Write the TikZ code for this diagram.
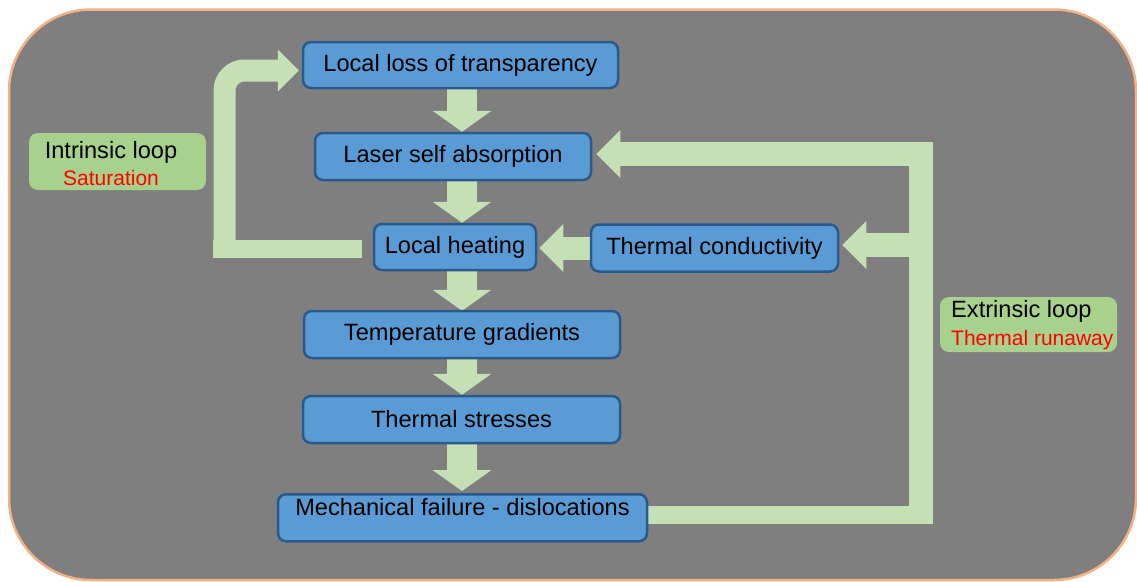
\documentclass[tikz,border=0pt]{standalone}
\usepackage{fontspec}
\setmainfont{Liberation Sans}
\usetikzlibrary{arrows.meta,calc,backgrounds}
\definecolor{bggray}{HTML}{7F7F7F}
\definecolor{bgborder}{HTML}{F4B183}
\definecolor{boxfill}{HTML}{5B9BD5}
\definecolor{boxborder}{HTML}{2A5A8C}
\definecolor{arrowgreen}{HTML}{C5E0B4}
\definecolor{loopgreen}{HTML}{A9D18E}
\definecolor{loopred}{HTML}{FF0000}
\begin{document}
\begin{tikzpicture}[x=1pt,y=-1pt,
  stepbox/.style={draw=boxborder, fill=boxfill, line width=2.5pt, rounded corners=8pt,
    inner sep=0pt, text=black, font=\fontsize{23.6}{28}\selectfont},
  loopbox/.style={fill=loopgreen, rounded corners=9pt, inner sep=0pt},
  looptext/.style={inner sep=0pt, text=black, font=\fontsize{23.6}{27.5}\selectfont},
  downarrow/.style={draw=arrowgreen, line width=30pt,
    -{Triangle[width=59pt,length=21pt,line width=0pt]}},
  sidearrow/.style={draw=arrowgreen, line width=#1,
    -{Triangle[width=48pt,length=24pt,line width=0pt]}},
  loopshaft/.style={draw=arrowgreen, line width=#1},
]
\useasboundingbox (0,0) rectangle (1137,581);
\begin{scope}[on background layer]
\fill[white] (0,0) rectangle (1137,581);
\draw[fill=bggray, draw=bgborder, line width=2.5pt, rounded corners=82pt]
  (9,9.5) rectangle (1136,580);
\end{scope}

% boxes
\node[stepbox, minimum width=315pt, minimum height=46pt] (b1) at (460.5,65) {Local loss of transparency};
\node[stepbox, minimum width=276pt, minimum height=47pt] (b2) at (453,156.5) {Laser self absorption};
\node[stepbox, minimum width=162pt, minimum height=46pt] (lh) at (455,247) {Local heating};
\node[stepbox, minimum width=247pt, minimum height=47pt] (tc) at (714.5,248) {Thermal conductivity};
\node[stepbox, minimum width=316pt, minimum height=47pt] (tg) at (462,334.5) {Temperature gradients};
\node[stepbox, minimum width=317pt, minimum height=47pt] (ts) at (461.5,419.5) {Thermal stresses};
\node[stepbox, minimum width=369pt, anchor=north, text height=21.5pt, text depth=25.5pt] (mf) at (462.5,493) {Mechanical failure - dislocations};

% loop labels
\node[loopbox, minimum width=177pt, minimum height=57pt] (il) at (117.5,161.5) {};
\node[looptext, align=center, anchor=base] (ilt) at (111,185.5) {Intrinsic loop\\{\color{loopred}\fontsize{21}{27.5}\selectfont Saturation}};
\node[loopbox, minimum width=177pt, minimum height=55pt] (el) at (1028.5,324.5) {};
\node[looptext, align=left, anchor=base west] (elt) at (951,345) {Extrinsic loop\\{\color{loopred}\fontsize{21}{27.5}\selectfont Thermal runaway}};

% coordinates
\coordinate (spine) at (462,0);
\coordinate (exTopEnd) at (933,154);
\coordinate (exA) at (921,142);
\coordinate (exB) at (921,524);
\coordinate (exBr) at (921,245);
\coordinate (exBotEnd) at (933,515);
\coordinate (inA) at (213,248.5);
\coordinate (inB) at (224.5,257);
\coordinate (inE) at (224.5,70.5);

\begin{scope}[on background layer]
% down arrows
\draw[downarrow] (b1.south -| spine) -- (b2.north -| spine);
\draw[downarrow] (b2.south -| spine) -- (lh.north -| spine);
\draw[downarrow] (lh.south -| spine) -- ([yshift=-1pt]tg.north -| spine);
\draw[downarrow] (tg.south -| spine) -- (ts.north -| spine);
\draw[downarrow] (ts.south -| spine) -- ([yshift=2pt]mf.north -| spine);

% thermal conductivity -> local heating
\draw[sidearrow=23pt] (tc.west) -- ([xshift=2pt]lh.east |- tc.west);

% extrinsic loop
\draw[loopshaft=24pt] (exA) -- (exB);
\draw[loopshaft=18pt] (mf.east |- exBotEnd) -- (exBotEnd);
\draw[sidearrow=24pt] (exTopEnd) -- ([xshift=4pt]b2.east |- exTopEnd);
\draw[sidearrow=24pt] (exBr) -- ([xshift=3pt]tc.east |- exBr);

% intrinsic loop
\draw[loopshaft=18pt] ([xshift=-11pt]lh.west |- inA) -- (inA);
\draw[draw=arrowgreen, line width=22pt, rounded corners=20pt,
  -{Triangle[width=42pt,length=21pt,line width=0pt]}]
  (inB) -- (inE) -- ([xshift=-3pt]b1.west |- inE);
\end{scope}
\end{tikzpicture}
\end{document}
